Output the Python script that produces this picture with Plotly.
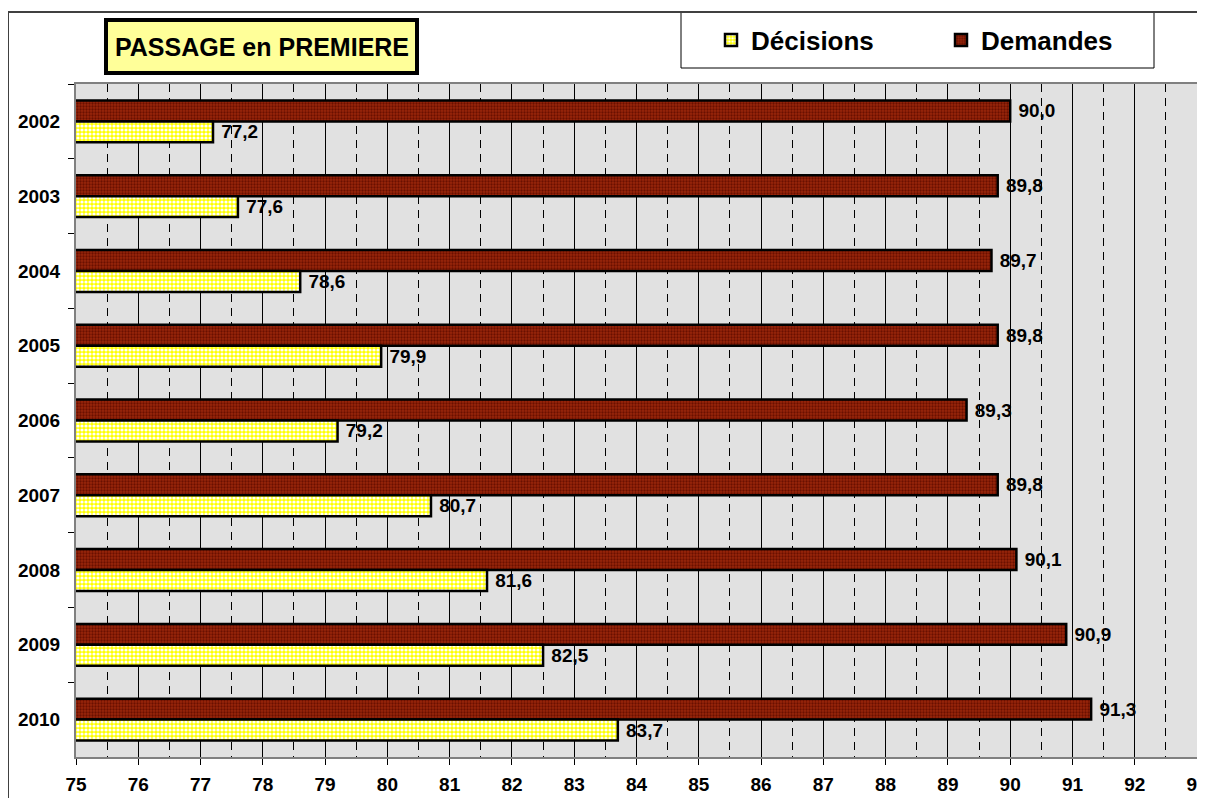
import plotly.graph_objects as go

years = ["2002", "2003", "2004", "2005", "2006", "2007", "2008", "2009", "2010"]
demandes = [90.0, 89.8, 89.7, 89.8, 89.3, 89.8, 90.1, 90.9, 91.3]
decisions = [77.2, 77.6, 78.6, 79.9, 79.2, 80.7, 81.6, 82.5, 83.7]
x_ticks = list(range(75, 94))

# page body has an 8px margin: the figure covers window pixels 8..1205 x 8..798
OFF = 8
W, H = 1205 - OFF, 798 - OFF
PX_L, PX_R, PX_T, PX_B = 76, 1197, 84, 757  # plot area in window pixels
L, T = PX_L - OFF, PX_T - OFF
R = W - (PX_R - OFF)
B = H - (PX_B - OFF)
PW, PH = W - L - R, H - T - B


def px2x(px):
    return (px - OFF - L) / PW


def py2y(py):
    return (H - B - (py - OFF)) / PH


def fmt(v):
    return " " + f"{v:.1f}".replace(".", ",")


FONT = "Arial, Liberation Sans, sans-serif"

fig = go.Figure()
fig.add_trace(go.Bar(
    y=years, x=demandes, orientation="h", name="Demandes",
    base=0,
    marker=dict(color="#9C2A0E", line=dict(color="black", width=2.5),
                pattern=dict(shape=".", fgcolor="#6A1000", bgcolor="#9A260A",
                             size=3, solidity=0.45, fillmode="replace")),
    text=[fmt(v) for v in demandes], textposition="outside",
    textfont=dict(family=FONT, size=19, color="black", weight="bold"),
    cliponaxis=False,
))
fig.add_trace(go.Bar(
    y=years, x=decisions, orientation="h", name="Décisions",
    base=0,
    marker=dict(color="#FFFF00", line=dict(color="black", width=2.5),
                pattern=dict(shape=".", fgcolor="#FFFFFF", bgcolor="#FFFF00",
                             size=4, solidity=0.5, fillmode="replace")),
    text=[fmt(v) for v in decisions], textposition="outside",
    textfont=dict(family=FONT, size=19, color="black", weight="bold"),
    cliponaxis=False,
))

fig.update_layout(
    width=W, height=H,
    margin=dict(l=L, r=R, t=T, b=B, autoexpand=False),
    paper_bgcolor="white",
    plot_bgcolor="#E1E1E1",
    barmode="group", bargap=0.44, bargroupgap=0,
    font=dict(family=FONT, color="black"),
    showlegend=True,
    legend=dict(orientation="h", traceorder="reversed",
                x=px2x(711), xanchor="left", y=py2y(40), yanchor="middle",
                bgcolor="rgba(0,0,0,0)", borderwidth=0,
                font=dict(family=FONT, size=26, color="black", weight="bold"),
                entrywidth=185, itemwidth=30),
    xaxis=dict(range=[75, 93], tickvals=x_ticks, ticktext=[str(v) for v in x_ticks],
               showgrid=True, gridcolor="black", gridwidth=1,
               minor=dict(dtick=0.5, tick0=75.5, showgrid=True, gridcolor="black",
                          gridwidth=1, griddash="8px,6px", ticks=""),
               ticks="outside", ticklen=6, tickcolor="black", tickwidth=1,
               showline=True, linecolor="#808080", linewidth=2, mirror=True,
               ticklabeloverflow="allow", ticklabelstandoff=3,
               tickfont=dict(family=FONT, size=19, color="black", weight="bold"),
               zeroline=False, fixedrange=True),
    yaxis=dict(categoryorder="array", categoryarray=years, autorange="reversed",
               tickson="boundaries", ticks="outside", ticklen=6, tickcolor="black",
               showgrid=False, showline=True, linecolor="#808080", linewidth=2, mirror=True,
               ticklabelstandoff=10,
               tickfont=dict(family=FONT, size=19, color="black", weight="bold"),
               fixedrange=True),
)

# outer chart border
fig.add_shape(type="rect", xref="paper", yref="paper",
              x0=px2x(8), x1=px2x(1230), y0=py2y(830), y1=py2y(12),
              line=dict(color="#404040", width=2), fillcolor="rgba(0,0,0,0)", layer="above")
# title box
fig.add_shape(type="rect", xref="paper", yref="paper",
              x0=px2x(106), x1=px2x(417), y0=py2y(73), y1=py2y(20),
              line=dict(color="black", width=4), fillcolor="#FFFF99", layer="above")
fig.add_annotation(text="PASSAGE en PREMIERE", xref="paper", yref="paper",
                   x=px2x(262), y=py2y(47), showarrow=False, xanchor="center", yanchor="middle",
                   font=dict(family=FONT, size=25, color="black", weight="bold"))
# legend box
fig.add_shape(type="rect", xref="paper", yref="paper",
              x0=px2x(681), x1=px2x(1154), y0=py2y(68), y1=py2y(12),
              line=dict(color="black", width=1), fillcolor="white", layer="below")

fig.write_html("out.html")
